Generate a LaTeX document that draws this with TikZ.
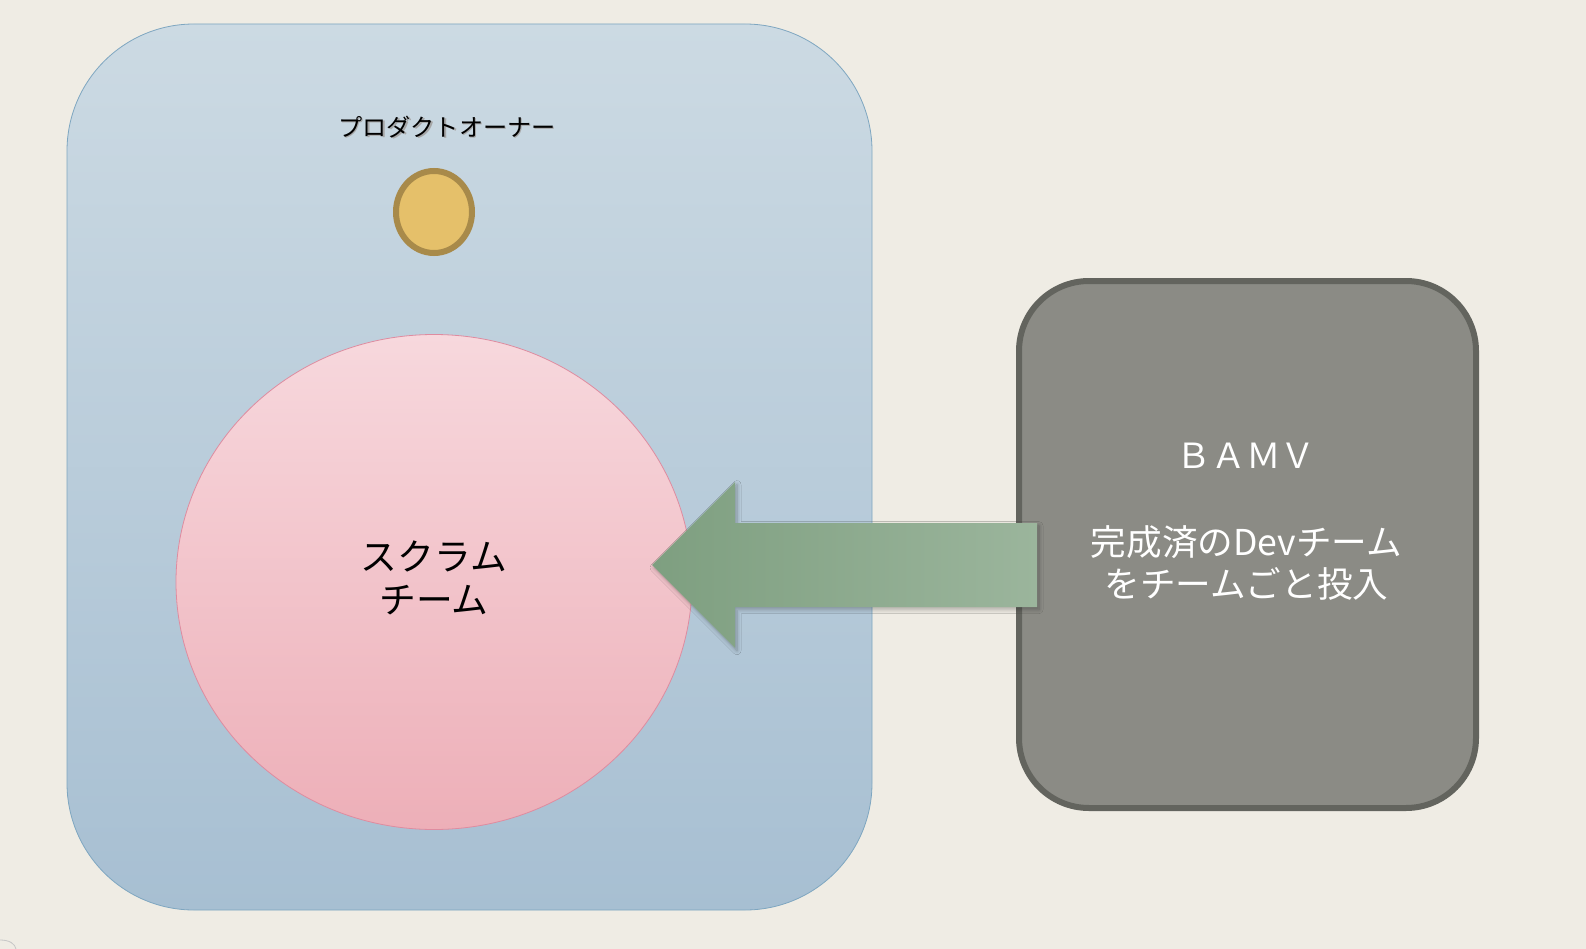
\documentclass[tikz,border=0pt]{standalone}
\usepackage{fontspec}
\newfontfamily\jp{Noto Sans CJK JP}
\usetikzlibrary{shapes.geometric,shadows.blur}
\definecolor{bg}{HTML}{EFECE4}
\definecolor{bluetop}{HTML}{CCDAE3}
\definecolor{bluebot}{HTML}{A7BFD2}
\definecolor{blueline}{HTML}{7EA6C0}
\definecolor{pinktop}{HTML}{F7D8DD}
\definecolor{pinkbot}{HTML}{EDAFB8}
\definecolor{pinkline}{HTML}{DE8CA0}
\definecolor{goldfill}{HTML}{E5C06A}
\definecolor{goldline}{HTML}{A88A4A}
\definecolor{grayfill}{HTML}{8B8B85}
\definecolor{grayline}{HTML}{63645E}
\definecolor{arrowL}{HTML}{7E9F80}
\definecolor{arrowR}{HTML}{9BB59C}
\tikzset{
  outerbox/.style={draw=blueline, line width=0.6pt, rounded corners=95.25pt,
    top color=bluetop, bottom color=bluebot, minimum width=603.75pt,
    minimum height=664.5pt, inner sep=0pt, outer sep=0pt},
  teamcircle/.style={ellipse, draw=pinkline, line width=0.6pt,
    top color=pinktop, bottom color=pinkbot, minimum width=387pt,
    minimum height=371.25pt, inner sep=0pt},
  person/.style={ellipse, draw=goldline, fill=goldfill, line width=4.5pt,
    minimum width=57pt, minimum height=61.5pt, inner sep=0pt},
  vendorbox/.style={draw=grayline, fill=grayfill, line width=4.5pt,
    rounded corners=52.5pt, minimum width=342.75pt, minimum height=395.25pt,
    inner sep=0pt},
  blockarrow/.style={left color=arrowL, right color=arrowR,
    blur shadow={shadow xshift=1.5pt, shadow yshift=-2pt, shadow blur radius=3pt, shadow blur steps=10, shadow opacity=28}},
  lbl/.style={font=\jp, inner sep=0pt, align=center}
}
\begin{document}
\begin{tikzpicture}[x=0.75pt, y=-0.75pt]
\fill[bg] (0,0) rectangle (1586,949);
\useasboundingbox (0,0) rectangle (1586,949);
\draw[black!22, line width=0.6pt] (0,940) .. controls (10,940) and (15,944) .. (16,949);
\node[outerbox] (scrumarea) at (469.5,467) {};
\node[teamcircle] (team) at (434,582) {};
\node[lbl, font=\jp\fontsize{27.6pt}{32.5pt}\selectfont] (teamlbl) at (434,578) {スクラム\\チーム};
\node[lbl, font=\jp\fontsize{18.1pt}{20pt}\selectfont, text=black!35] (poshadow) at (448.5,128.5) {プロダクトオーナー};
\node[lbl, font=\jp\fontsize{18.1pt}{20pt}\selectfont] (polbl) at (447,127) {プロダクトオーナー};
\node[person] (po) at (434,212) {};
\node[vendorbox] (vendor) at (1247.5,544.5) {};
\node[lbl, font=\jp\fontsize{26pt}{30pt}\selectfont, text=white] (bamv) at (1246,456) {ＢＡＭＶ};
\node[lbl, font=\jp\fontsize{26.7pt}{32pt}\selectfont, text=white] (vendorlbl) at (1246.5,563) {完成済のDevチーム\\をチームごと投入};
\coordinate (tip) at (652,565);
\coordinate (tail) at (1037,565);
\path[blockarrow] (tip) -- (735,482) -- (735,523) -- (tail |- 0,523) -- (tail |- 0,607) -- (735,607) -- (735,648) -- cycle;
\end{tikzpicture}
\end{document}
